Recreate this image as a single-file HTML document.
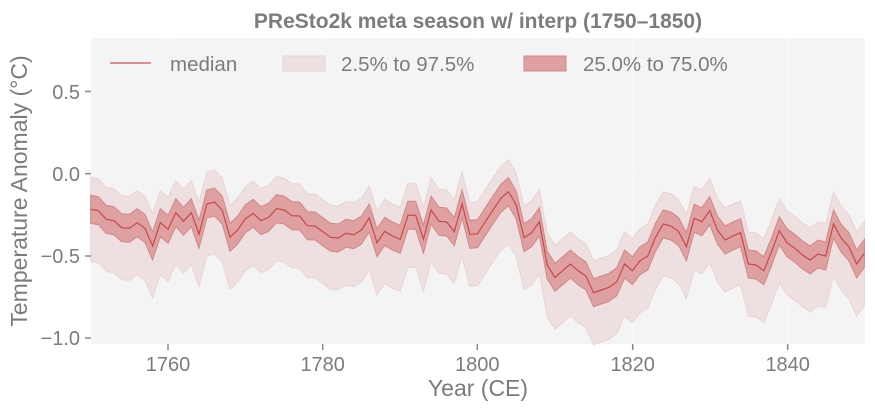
<!DOCTYPE html>
<html><head><meta charset="utf-8"><style>
body{margin:0;background:#fff;width:875px;height:411px;overflow:hidden}
svg text{font-family:"Liberation Sans",sans-serif;fill:#7c7c7c}
</style></head><body>
<svg id="s" width="875" height="411" xmlns="http://www.w3.org/2000/svg">
<rect x="91" y="38" width="774" height="306" fill="#f4f4f4"/>
<g stroke="#f9f9f9" stroke-width="1">
<line x1="168" y1="38" x2="168" y2="344"/><line x1="322.7" y1="38" x2="322.7" y2="344"/>
<line x1="477.3" y1="38" x2="477.3" y2="344"/><line x1="632.7" y1="38" x2="632.7" y2="344"/>
<line x1="787.7" y1="38" x2="787.7" y2="344"/>
<line x1="91" y1="91.5" x2="865" y2="91.5"/><line x1="91" y1="173.7" x2="865" y2="173.7"/>
<line x1="91" y1="256" x2="865" y2="256"/><line x1="91" y1="338" x2="865" y2="338"/>
</g>
<g id="data"></g>
<g stroke="#888" stroke-width="1.5">
<line x1="85" y1="91.5" x2="91" y2="91.5"/><line x1="85" y1="173.7" x2="91" y2="173.7"/>
<line x1="85" y1="256" x2="91" y2="256"/><line x1="85" y1="338" x2="91" y2="338"/>
<line x1="168" y1="344" x2="168" y2="350"/><line x1="322.7" y1="344" x2="322.7" y2="350"/>
<line x1="477.3" y1="344" x2="477.3" y2="350"/><line x1="632.7" y1="344" x2="632.7" y2="350"/>
<line x1="787.7" y1="344" x2="787.7" y2="350"/>
</g>
<g font-size="20" text-anchor="end">
<text x="80" y="99">0.5</text><text x="80" y="181">0.0</text>
<text x="80" y="263">−0.5</text><text x="80" y="345">−1.0</text>
</g>
<g font-size="20" text-anchor="middle">
<text x="168" y="371">1760</text><text x="322.7" y="371">1780</text>
<text x="477.3" y="371">1800</text><text x="632.7" y="371">1820</text>
<text x="787.7" y="371">1840</text>
<text x="478" y="396" font-size="23">Year (CE)</text>
<text x="478" y="28" font-size="21" font-weight="bold">PReSto2k meta season w/ interp (1750–1850)</text>
<text transform="translate(27,191) rotate(-90)" font-size="23">Temperature Anomaly (°C)</text>
</g>
<line x1="110" y1="63" x2="151" y2="63" stroke="#d05050" stroke-width="1.3"/>
<text x="170" y="71" font-size="20.5">median</text>
<rect x="283" y="56" width="42" height="15" fill="#eee0e0" stroke="#e8d0d0"/>
<text x="341" y="71" font-size="20.5">2.5% to 97.5%</text>
<rect x="524" y="56" width="42" height="15" fill="#dea0a0" stroke="#d08888"/>
<text x="583" y="71" font-size="20.5">25.0% to 75.0%</text>
</svg>
<script>
var z=[178,182,208,212,233,235,218,235,288,218,238,188,214,188,253,162,156,180,262,240,206,190,212,202,176,180,197,198,227,228,245,262,264,250,254,240,204,278,244,258,268,196,196,268,180,214,216,245,162,253,251,
215,180,145,125,165,263,248,215,345,382,362,342,362,378,428,420,412,395,342,362,332,318,262,222,228,245,290,205,215,182,240,270,258,248,342,345,362,305,242,278,295,315,330,312,318,222,265,290,342,310];
var xs=[],ys=[];
for(var i=0;i<z.length;i++){xs.push(90.7+i*7.737);ys.push(150+z[i]/3);}
function band(a,b){var p="M";for(var i=0;i<xs.length;i++)p+=xs[i].toFixed(1)+","+(ys[i]+a).toFixed(1)+" L";
for(var i=xs.length-1;i>=0;i--)p+=xs[i].toFixed(1)+","+(ys[i]+b).toFixed(1)+(i?" L":" Z");return p;}
var line="M";for(var i=0;i<xs.length;i++)line+=xs[i].toFixed(1)+","+ys[i].toFixed(1)+(i<xs.length-1?" L":"");
document.getElementById("data").innerHTML=
'<path d="'+band(-32,52)+'" fill="#eee0e0" stroke="#ead4d4" stroke-width="1"/>'+
'<path d="'+band(-14,14)+'" fill="#dea0a0" stroke="#d08888" stroke-width="1"/>'+
'<path d="'+line+'" fill="none" stroke="#c84848" stroke-width="1.2"/>';
</script>
</body></html>
